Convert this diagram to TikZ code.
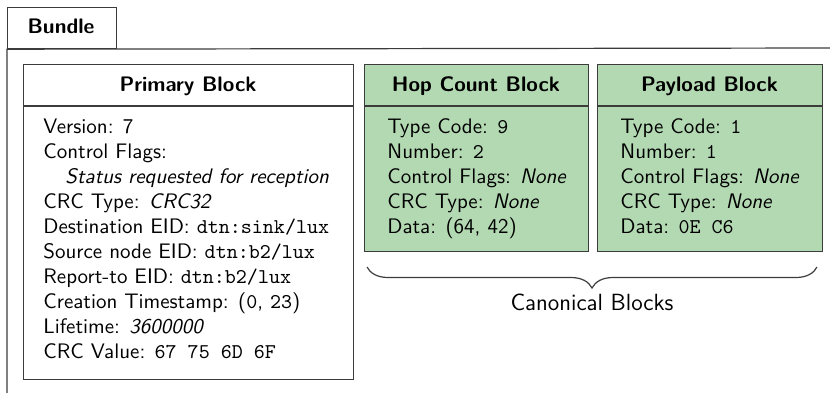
\documentclass[tikz,border=0pt]{standalone}
\usepackage{fontspec}
\usetikzlibrary{decorations.pathreplacing}
\definecolor{blockgreen}{RGB}{179,217,179}
\definecolor{linegray}{RGB}{60,60,60}
\newcommand{\diafont}{\sffamily\fontsize{10.5}{12.6}\selectfont}
\newcommand{\bigdiafont}{\sffamily\fontsize{11.7}{14}\selectfont}
\begin{document}
\begin{tikzpicture}[x=0.5pt,y=-0.5pt,
  frame/.style={draw=linegray, line width=0.6pt},
  blockbox/.style={frame, anchor=north west, inner sep=0pt},
  head/.style={font=\diafont\bfseries, anchor=base, inner sep=0pt},
  body/.style={font=\diafont, anchor=base west, inner sep=0pt},
]
\useasboundingbox (0,0) rectangle (830,392);
% bundle frame
\node[blockbox, minimum width=54.5pt, minimum height=20.5pt] (tab) at (7,7) {};
\node[head] (bundle) at (61,33) {Bundle};
\coordinate (fr) at (831,48);
\coordinate (fb) at (7,393);
\draw[frame] (fb) -- (tab.south west) -- (fr);
% primary block
\node[blockbox, minimum width=165pt, minimum height=157.5pt] (prim) at (23,64) {};
\coordinate (pl) at (23,106);
\coordinate (pr) at (353,106);
\draw[frame] (pl) -- (pr);
\node[head] (primh) at (188,91) {Primary Block};
\node[body] (p1) at (43,133) {Version: 7};
\node[body] (p2) at (43,158) {Control Flags:};
\node[body] (p3) at (65,183) {\itshape Status requested for reception};
\node[body] (p4) at (43,208) {CRC Type: \textit{CRC32}};
\node[body] (p5) at (43,233) {Destination EID: \texttt{dtn:sink/lux}};
\node[body] (p6) at (43,258) {Source node EID: \texttt{dtn:b2/lux}};
\node[body] (p7) at (43,283) {Report-to EID: \texttt{dtn:b2/lux}};
\node[body] (p8) at (43,308) {Creation Timestamp: (\texttt{0}, \texttt{23})};
\node[body] (p9) at (43,333) {Lifetime: \textit{3600000}};
\node[body] (p10) at (43,358) {CRC Value: \texttt{67 75 6D 6F}};
% hop count block
\node[blockbox, fill=blockgreen, minimum width=112pt, minimum height=93.5pt] (hop) at (364,64) {};
\coordinate (hl) at (364,106);
\coordinate (hr) at (588,106);
\draw[frame] (hl) -- (hr);
\node[head] (hoph) at (476,91) {Hop Count Block};
\node[body] (h1) at (387,133) {Type Code: \texttt{9}};
\node[body] (h2) at (387,158) {Number: \texttt{2}};
\node[body] (h3) at (387,183) {Control Flags: \textit{None}};
\node[body] (h4) at (387,208) {CRC Type: \textit{None}};
\node[body] (h5) at (387,233) {Data: (64, 42)};
% payload block
\node[blockbox, fill=blockgreen, minimum width=112.5pt, minimum height=93.5pt] (pay) at (597,64) {};
\coordinate (yl) at (597,106);
\coordinate (yr) at (822,106);
\draw[frame] (yl) -- (yr);
\node[head] (payh) at (709.5,91) {Payload Block};
\node[body] (y1) at (620,133) {Type Code: \texttt{1}};
\node[body] (y2) at (620,158) {Number: \texttt{1}};
\node[body] (y3) at (620,183) {Control Flags: \textit{None}};
\node[body] (y4) at (620,208) {CRC Type: \textit{None}};
\node[body] (y5) at (620,233) {Data: \texttt{0E C6}};
% brace
\coordinate (bl) at (367,267);
\coordinate (br) at (817,267);
\draw[frame, decorate, decoration={brace, mirror, amplitude=10.5pt}] (bl) -- (br);
\node[font=\bigdiafont, anchor=base, inner sep=0pt] (canon) at (592,310) {Canonical Blocks};
\end{tikzpicture}
\end{document}
